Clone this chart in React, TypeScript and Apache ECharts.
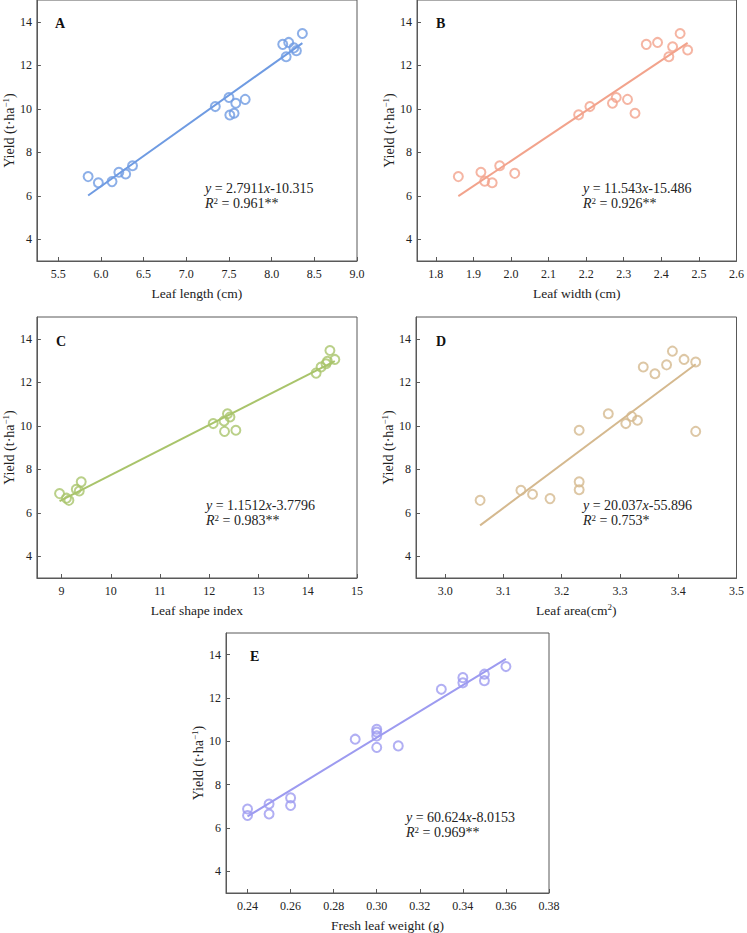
import React, { useEffect, useRef } from "react";
import * as echarts from "echarts";

// ---- data ----
const yieldTicks = [4, 6, 8, 10, 12, 14];

const aX = [5.85, 5.97, 6.13, 6.21, 6.29, 6.37, 7.34, 7.5, 7.51, 7.56, 7.58, 7.69, 8.13, 8.2, 8.17, 8.26, 8.29, 8.36];
const aY = [6.88, 6.6, 6.65, 7.08, 7.0, 7.38, 10.1, 10.52, 9.71, 9.79, 10.25, 10.43, 12.96, 13.05, 12.39, 12.8, 12.67, 13.46];
const aTicks = [5.5, 6.0, 6.5, 7.0, 7.5, 8.0, 8.5, 9.0];

const bX = [1.86, 1.92, 1.93, 1.95, 1.97, 2.01, 2.18, 2.21, 2.27, 2.28, 2.31, 2.33, 2.36, 2.39, 2.42, 2.43, 2.45, 2.47];
const bY = [6.88, 7.08, 6.67, 6.6, 7.38, 7.03, 9.72, 10.1, 10.25, 10.52, 10.43, 9.79, 12.96, 13.05, 12.39, 12.85, 13.46, 12.7];
const bTicks = [1.8, 1.9, 2.0, 2.1, 2.2, 2.3, 2.4, 2.5, 2.6];

const cX = [8.96, 9.1, 9.15, 9.3, 9.36, 9.4, 12.08, 12.3, 12.37, 12.42, 12.31, 12.54, 14.17, 14.27, 14.37, 14.4, 14.45, 14.55];
const cY = [6.88, 6.67, 6.57, 7.08, 7.0, 7.42, 10.1, 10.22, 10.55, 10.4, 9.74, 9.79, 12.42, 12.7, 12.85, 12.96, 13.46, 13.05];
const cTicks = [9, 10, 11, 12, 13, 14, 15];

const dX = [3.06, 3.13, 3.15, 3.18, 3.23, 3.23, 3.23, 3.28, 3.31, 3.32, 3.33, 3.34, 3.36, 3.38, 3.39, 3.41, 3.43, 3.43];
const dY = [6.57, 7.03, 6.85, 6.65, 9.79, 7.42, 7.06, 10.55, 10.1, 10.43, 10.25, 12.7, 12.39, 12.8, 13.43, 13.05, 12.93, 9.74];
const dTicks = [3.0, 3.1, 3.2, 3.3, 3.4, 3.5];

const eX = [0.24, 0.24, 0.25, 0.25, 0.26, 0.26, 0.29, 0.3, 0.3, 0.3, 0.3, 0.31, 0.33, 0.34, 0.34, 0.35, 0.35, 0.36];
const eY = [6.88, 6.58, 7.11, 6.65, 7.39, 7.04, 10.1, 10.56, 10.43, 10.25, 9.72, 9.79, 12.4, 12.94, 12.7, 13.1, 12.8, 13.45];
const eTicks = [0.24, 0.26, 0.28, 0.3, 0.32, 0.34, 0.36, 0.38];

const fitSlopes = [2.7911, 11.543, 1.1512, 20.037, 60.624];
const fitIntercepts = [-10.315, -15.486, -3.7796, -55.896, -8.0153];
const fitSlopeText = ["2.7911", "11.543", "1.1512", "20.037", "60.624"];
const fitInterceptText = ["10.315", "15.486", "3.7796", "55.896", "8.0153"];
const r2Text = ["0.961**", "0.926**", "0.983**", "0.753*", "0.969**"];
const panelLetters = ["A", "B", "C", "D", "E"];
const xNames = ["{a|Leaf length (cm)}", "{a|Leaf width (cm)}", "{a|Leaf shape index}", "{a|Leaf area(cm}{s|2}{a|)}", "{a|Fresh leaf weight (g)}"];

const FONT = '"Liberation Serif", "Times New Roman", serif';
const AXIS_COLOR = "#595959";
const TEXT_COLOR = "#222";

type Panel = {
  xs: number[];
  ys: number[];
  ticks: number[];
  xMin: number;
  xMax: number;
  decimals: number;
  color: string;
  grid: { left: number; top: number; width: number; height: number };
  letterPos: [number, number];
  eqPos: [number, number];
};

const panels: Panel[] = [
  { xs: aX, ys: aY, ticks: aTicks, xMin: 5.25, xMax: 9.0, decimals: 1, color: "#6f9be2",
    grid: { left: 34, top: 0, width: 323, height: 261 }, letterPos: [55, 16], eqPos: [205, 181] },
  { xs: bX, ys: bY, ticks: bTicks, xMin: 1.75, xMax: 2.6, decimals: 1, color: "#f2a38c",
    grid: { left: 417, top: 0, width: 324, height: 261 }, letterPos: [436, 16], eqPos: [583, 181] },
  { xs: cX, ys: cY, ticks: cTicks, xMin: 8.5, xMax: 15, decimals: 0, color: "#a9c46b",
    grid: { left: 33, top: 317, width: 324, height: 261 }, letterPos: [56, 334], eqPos: [206, 498] },
  { xs: dX, ys: dY, ticks: dTicks, xMin: 2.95, xMax: 3.5, decimals: 1, color: "#d5b98f",
    grid: { left: 416, top: 317, width: 325, height: 261 }, letterPos: [436, 334], eqPos: [583, 498] },
  { xs: eX, ys: eY, ticks: eTicks, xMin: 0.23, xMax: 0.38, decimals: 2, color: "#9d9bf0",
    grid: { left: 226, top: 633, width: 323, height: 262 }, letterPos: [250, 649], eqPos: [406, 810] },
];

export default function App() {
  const ref = useRef<HTMLDivElement>(null);
  useEffect(() => {
    if (!ref.current) return;
    const chart = echarts.init(ref.current, null, { renderer: "svg" });

    const grids: any[] = [];
    const xAxes: any[] = [];
    const yAxes: any[] = [];
    const series: any[] = [];
    const graphics: any[] = [];

    panels.forEach((p, i) => {
      grids.push({
        ...p.grid,
        show: true,
        borderColor: AXIS_COLOR,
        borderWidth: 1,
        backgroundColor: "transparent",
        containLabel: false,
      });
      xAxes.push({
        type: "value",
        gridIndex: i,
        min: p.xMin,
        max: p.xMax,
        splitLine: { show: false },
        axisLine: { show: true, onZero: false, lineStyle: { color: AXIS_COLOR, width: 1 } },
        axisTick: { show: true, inside: true, length: 4, customValues: p.ticks, lineStyle: { color: AXIS_COLOR } },
        axisLabel: {
          show: true,
          customValues: p.ticks,
          formatter: (v: number) => v.toFixed(p.decimals),
          color: TEXT_COLOR,
          fontFamily: FONT,
          fontSize: 12,
          margin: 7,
        },
        name: xNames[i],
        nameLocation: "middle",
        nameGap: 24,
        nameTextStyle: {
          rich: {
            a: { fontFamily: FONT, fontSize: 13.5, color: TEXT_COLOR, lineHeight: 16 },
            s: { fontFamily: FONT, fontSize: 9, color: TEXT_COLOR, verticalAlign: "top", lineHeight: 16 },
          },
        },
      });
      yAxes.push({
        type: "value",
        gridIndex: i,
        min: 3,
        max: 15,
        splitLine: { show: false },
        axisLine: { show: true, onZero: false, lineStyle: { color: AXIS_COLOR, width: 1 } },
        axisTick: { show: true, inside: true, length: 4, customValues: yieldTicks, lineStyle: { color: AXIS_COLOR } },
        axisLabel: {
          show: true,
          customValues: yieldTicks,
          color: TEXT_COLOR,
          fontFamily: FONT,
          fontSize: 12,
          margin: 5,
        },
        name: "{a|Yield (t·ha}{s|−1}{a|)}",
        nameLocation: "middle",
        nameGap: 19,
        nameTextStyle: {
          rich: {
            a: { fontFamily: FONT, fontSize: 14, color: TEXT_COLOR, lineHeight: 16 },
            s: { fontFamily: FONT, fontSize: 9, color: TEXT_COLOR, verticalAlign: "top", lineHeight: 16 },
          },
        },
      });

      const pts = p.xs.map((x, k) => [x, p.ys[k]]);
      const lo = Math.min(...p.xs);
      const hi = Math.max(...p.xs);
      const fit = [lo, hi].map((x) => [x, fitSlopes[i] * x + fitIntercepts[i]]);

      series.push({
        type: "line",
        xAxisIndex: i,
        yAxisIndex: i,
        data: fit,
        symbol: "none",
        lineStyle: { color: p.color, width: 2 },
        z: 2,
      });
      series.push({
        type: "scatter",
        xAxisIndex: i,
        yAxisIndex: i,
        data: pts,
        symbol: "circle",
        symbolSize: 9,
        itemStyle: { color: "rgba(255,255,255,0)", borderColor: p.color, borderWidth: 2 },
        z: 3,
      });

      graphics.push({
        type: "text",
        x: p.letterPos[0],
        y: p.letterPos[1],
        style: { text: panelLetters[i], font: `bold 14px ${FONT}`, fill: "#111" },
      });
      graphics.push({
        type: "text",
        x: p.eqPos[0],
        y: p.eqPos[1],
        style: {
          text: `{i|y} = ${fitSlopeText[i]}{i|x}-${fitInterceptText[i]}\n{i|R}{s|2} = ${r2Text[i]}`,
          rich: {
            i: { fontFamily: FONT, fontSize: 14, fontStyle: "italic", fill: TEXT_COLOR, lineHeight: 15 },
            s: { fontFamily: FONT, fontSize: 9, fill: TEXT_COLOR, verticalAlign: "top", lineHeight: 15 },
          },
          fontFamily: FONT,
          fontSize: 14,
          lineHeight: 15,
          fill: TEXT_COLOR,
        },
      });
    });

    chart.setOption({
      animation: false,
      backgroundColor: "#fff",
      grid: grids,
      xAxis: xAxes,
      yAxis: yAxes,
      series,
      graphic: graphics,
    });
    return () => chart.dispose();
  }, []);

  return (
    <div
      ref={ref}
      style={{ position: "absolute", left: 0, top: 0, width: 747, height: 933 }}
    />
  );
}
